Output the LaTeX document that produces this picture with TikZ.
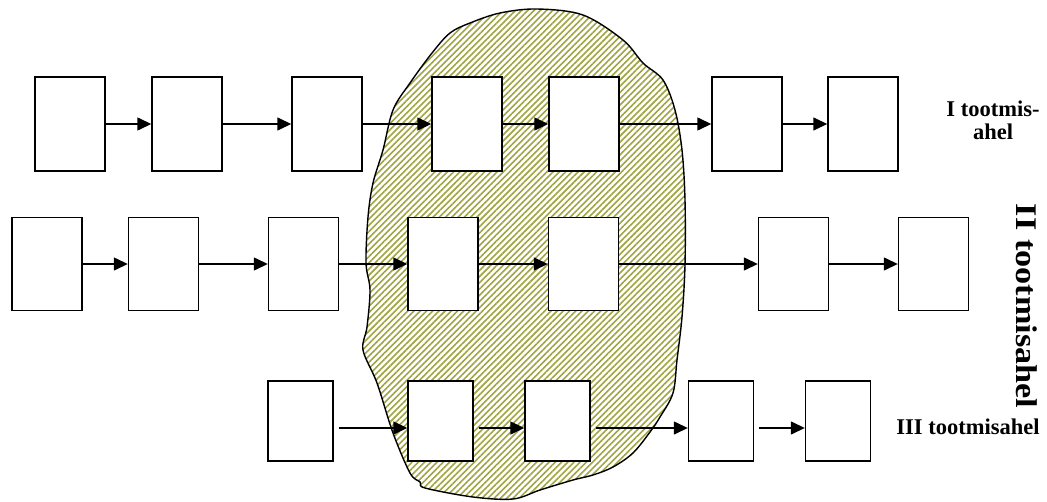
\documentclass[tikz,border=0pt]{standalone}
\usepackage{fontspec}
\setmainfont{Liberation Serif}
\usetikzlibrary{arrows.meta,patterns.meta}
\definecolor{hatchc}{RGB}{160,164,66}
\begin{document}
\begin{tikzpicture}[x=1pt,y=-1pt,
  blk/.style={draw, fill=white, line width=1.4pt, inner sep=0pt,
              minimum width=70pt, minimum height=94pt},
  blkc/.style={blk, minimum width=65pt, minimum height=80pt},
  flow/.style={line width=1.4pt, -{Triangle[length=14pt,width=13pt]}},
  lbl/.style={font=\bfseries\fontsize{22.5}{23}\selectfont, align=center}]
\useasboundingbox (0,0) rectangle (1047,501);

% shared region of the three lines
\draw[line width=1.4pt, pattern={Lines[angle=45,distance=4.4pt,line width=1.6pt]},
      pattern color=hatchc]
  plot[smooth cycle, tension=0.55] coordinates {
    (537,9) (583,15) (623,40) (643,63) (663,80) (675,110) (682,150)
    (685,200) (685,265) (682,317) (677,360) (673,393) (660,417) (650,432)
    (633,453) (613,467) (593,475) (573,480) (540,490) (513,499) (473,497)
    (425,488) (420,482) (410,473) (393,433) (377,383) (363,350) (367,327)
    (370,290) (366,263) (368,217) (373,183) (383,150) (393,110) (410,83)
    (432,53) (450,33) (470,23) (500,13)};

% line I
\node[blk] (a1) at (70,124) {};
\node[blk] (a2) at (187,124) {};
\node[blk] (a3) at (327,124) {};
\node[blk] (a4) at (467,124) {};
\node[blk] (a5) at (584,124) {};
\node[blk] (a6) at (747,124) {};
\node[blk] (a7) at (863,124) {};

% line II
\node[blk, minimum height=93pt] (b1) at (47,264) {};
\node[blk, minimum height=93pt] (b2) at (163.5,264) {};
\node[blk, minimum height=93pt] (b3) at (303.5,264) {};
\node[blk, minimum height=93pt] (b4) at (443,264) {};
\node[blk, minimum height=93pt] (b5) at (583.5,264) {};
\node[blk, minimum height=93pt] (b6) at (793.5,264) {};
\node[blk, minimum height=93pt] (b7) at (933.5,264) {};

% line III
\node[blkc] (c1) at (300.5,421) {};
\node[blkc] (c2) at (440.5,421) {};
\node[blkc] (c3) at (557.5,421) {};
\node[blkc] (c4) at (721,421) {};
\node[blkc] (c5) at (838,421) {};

\foreach \i/\j in {1/2,2/3,3/4,4/5,5/6,6/7} {
  \draw[flow] (a\i) -- (a\j);
  \draw[flow] (b\i) -- (b\j);
}
\foreach \i/\j in {1/2,2/3,3/4,4/5} {
  \draw[flow, shorten <=5pt] ([yshift=-7pt]c\i.east) -- ([yshift=-7pt]c\j.west);
}

\node[lbl] (t1) at (993,120) {I tootmis-\\ahel};
\node[lbl, font=\bfseries\fontsize{30}{34}\selectfont, rotate=-90] (t2) at (1027,306)
  {\scalebox{1.14}[1]{II tootmisahel}};
\node[lbl] (t3) at (968,427) {III tootmisahel};
\end{tikzpicture}
\end{document}
